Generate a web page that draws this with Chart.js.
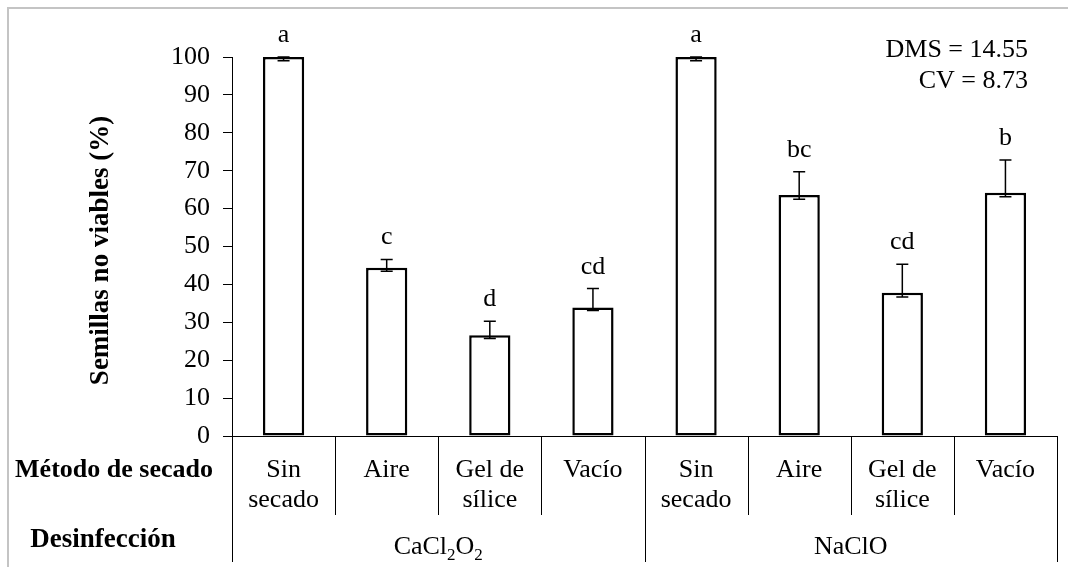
<!DOCTYPE html>
<html>
<head>
<meta charset="utf-8">
<script src="https://cdn.jsdelivr.net/npm/chart.js@4/dist/chart.umd.min.js"></script>
<style>
html,body{margin:0;padding:0;background:#fff;overflow:hidden;}
#c{position:absolute;left:0;top:0;}
</style>
</head>
<body>
<canvas id="c" width="1068" height="567"></canvas>
<script>
const categories = [
  ['Sin','secado'], ['Aire'], ['Gel de','sílice'], ['Vacío'],
  ['Sin','secado'], ['Aire'], ['Gel de','sílice'], ['Vacío']
];
const groups = ['CaCl2O2', 'NaClO'];
const values = [100, 44.4, 26.6, 33.9, 100, 63.6, 37.8, 64.2];
const errPlus = [0, 2.2, 3.7, 5.0, 0, 6.1, 7.5, 8.6];
const errMinus = [1.0, 0.9, 0.9, 0.8, 1.0, 1.1, 1.1, 1.1];
const letters = ['a', 'c', 'd', 'cd', 'a', 'bc', 'cd', 'b'];
const yTicks = [0,10,20,30,40,50,60,70,80,90,100];
const statLines = ['DMS = 14.55', 'CV = 8.73'];
const yTitle = 'Semillas no viables (%)';
const rowTitles = ['Método de secado', 'Desinfección'];

const SERIF = '"Liberation Serif", "Times New Roman", serif';
const FS = 26;

const overlay = {
  id: 'overlay',
  beforeDraw(chart) {
    const ctx = chart.ctx;
    ctx.save();
    ctx.fillStyle = '#fff';
    ctx.fillRect(0, 0, chart.width, chart.height);
    ctx.strokeStyle = '#c4c4c4';
    ctx.lineWidth = 2;
    ctx.beginPath();
    ctx.moveTo(8, chart.height + 5);
    ctx.lineTo(8, 8);
    ctx.lineTo(chart.width + 5, 8);
    ctx.stroke();
    ctx.restore();
  },
  afterDraw(chart) {
    const ctx = chart.ctx;
    const x = chart.scales.x, y = chart.scales.y;
    const meta = chart.getDatasetMeta(0);
    const area = chart.chartArea;
    ctx.save();
    // error bars
    ctx.strokeStyle = '#000';
    ctx.lineWidth = 1.5;
    meta.data.forEach((bar, i) => {
      const cx = bar.x;
      const yt = y.getPixelForValue(values[i] + errPlus[i]);
      const yb = y.getPixelForValue(values[i] - errMinus[i]);
      ctx.beginPath();
      ctx.moveTo(cx, yt); ctx.lineTo(cx, yb);
      ctx.moveTo(cx - 6, yt); ctx.lineTo(cx + 6, yt);
      ctx.moveTo(cx - 6, yb); ctx.lineTo(cx + 6, yb);
      ctx.stroke();
    });
    // letters
    ctx.fillStyle = '#000';
    ctx.font = FS + 'px ' + SERIF;
    ctx.textAlign = 'center';
    ctx.textBaseline = 'alphabetic';
    meta.data.forEach((bar, i) => {
      const yt = y.getPixelForValue(values[i] + errPlus[i]);
      ctx.fillText(letters[i], bar.x, yt - 15);
    });
    // separators below axis
    const n = categories.length;
    const step = (x.getPixelForValue(1) - x.getPixelForValue(0));
    ctx.lineWidth = 1;
    for (let k = 0; k <= n; k++) {
      const px = Math.round(x.getPixelForValue(0) - step / 2 + k * step) + 0.5;
      const isGroup = (k % 4 === 0);
      ctx.beginPath();
      ctx.moveTo(px, area.bottom);
      ctx.lineTo(px, isGroup ? 562 : 515);
      ctx.stroke();
    }
    // category labels
    ctx.font = FS + 'px ' + SERIF;
    ctx.textAlign = 'center';
    categories.forEach((lab, i) => {
      const px = x.getPixelForValue(i);
      lab.forEach((line, j) => ctx.fillText(line, px, 477 + j * 30));
    });
    // group labels
    const g1 = (x.getPixelForValue(0) + x.getPixelForValue(3)) / 2;
    const g2 = (x.getPixelForValue(4) + x.getPixelForValue(7)) / 2;
    const parts = [['CaCl', 0], ['2', 1], ['O', 0], ['2', 1]];
    const fsSub = 17;
    let tw = 0;
    parts.forEach(p => { ctx.font = (p[1] ? fsSub : FS) + 'px ' + SERIF; tw += ctx.measureText(p[0]).width; });
    let sx = g1 - tw / 2;
    ctx.textAlign = 'left';
    parts.forEach(p => {
      ctx.font = (p[1] ? fsSub : FS) + 'px ' + SERIF;
      ctx.fillText(p[0], sx, p[1] ? 560 : 554);
      sx += ctx.measureText(p[0]).width;
    });
    ctx.font = FS + 'px ' + SERIF;
    ctx.textAlign = 'center';
    ctx.fillText(groups[1], g2, 554);
    // row titles
    ctx.font = 'bold ' + FS + 'px ' + SERIF;
    ctx.textAlign = 'center';
    ctx.fillText(rowTitles[0], 114, 477);
    ctx.font = 'bold 27px ' + SERIF;
    ctx.fillText(rowTitles[1], 103, 547);
    // y title
    ctx.save();
    ctx.font = 'bold 27px ' + SERIF;
    ctx.translate(101, (area.top + area.bottom) / 2 + 4);
    ctx.rotate(-Math.PI / 2);
    ctx.textAlign = 'center';
    ctx.textBaseline = 'middle';
    ctx.fillText(yTitle, 0, 0);
    ctx.restore();
    // stats
    ctx.font = FS + 'px ' + SERIF;
    ctx.textAlign = 'right';
    ctx.fillText(statLines[0], 1028, 57);
    ctx.fillText(statLines[1], 1028, 88);
    ctx.restore();
  }
};

new Chart(document.getElementById('c'), {
  type: 'bar',
  data: {
    labels: categories,
    datasets: [{
      data: values,
      backgroundColor: '#fff',
      borderColor: '#000',
      borderWidth: 2.5,
      borderSkipped: false,
      barPercentage: 0.4,
      categoryPercentage: 1.0
    }]
  },
  options: {
    responsive: false,
    animation: false,
    devicePixelRatio: 1,
    layout: { padding: { left: 0, top: 57, right: 11, bottom: 0 } },
    plugins: { legend: { display: false }, tooltip: { enabled: false } },
    scales: {
      x: {
        ticks: { display: false },
        grid: { display: false },
        border: { display: true, color: '#000', width: 1 },
        afterFit(s) { s.height = 131; }
      },
      y: {
        min: 0, max: 100,
        afterBuildTicks(s) { s.ticks = yTicks.map(v => ({ value: v })); },
        ticks: { color: '#000', padding: 13, font: { family: SERIF, size: FS } },
        grid: { display: true, drawOnChartArea: false, drawTicks: true, tickLength: 9, color: '#000', lineWidth: 1 },
        border: { display: true, color: '#000', width: 1 },
        afterFit(s) { s.width = 232; }
      }
    }
  },
  plugins: [overlay]
});
</script>
</body>
</html>
